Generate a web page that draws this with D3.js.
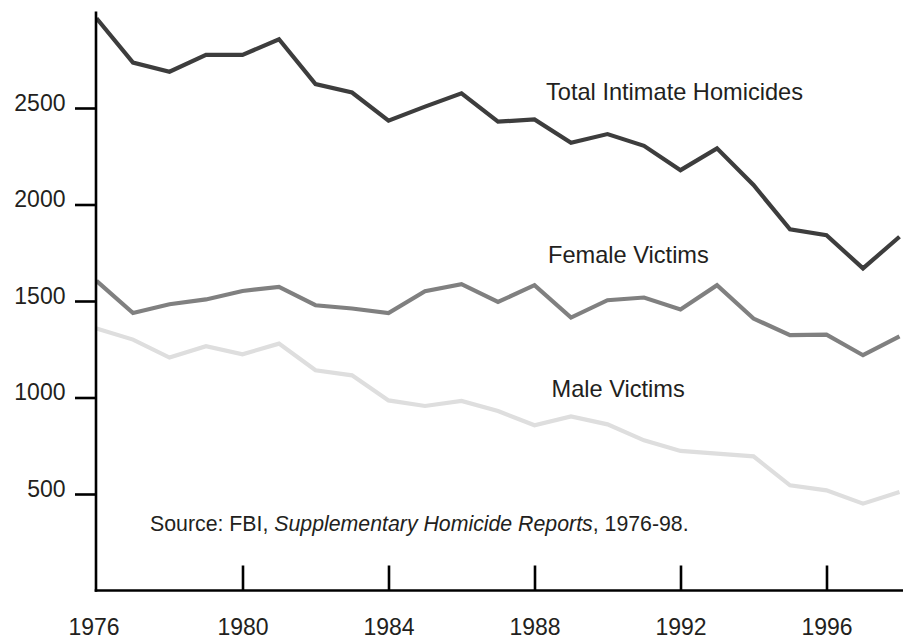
<!DOCTYPE html>
<html>
<head>
<meta charset="utf-8">
<script src="https://cdn.jsdelivr.net/npm/d3@7"></script>
<style>
  html, body { margin: 0; padding: 0; background: #fff; }
  svg { display: block; }
  text { font-family: "Liberation Sans", Arial, Helvetica, sans-serif; fill: #231f20; }
</style>
</head>
<body>
<svg id="chart" width="903" height="639"></svg>
<script>
const years = d3.range(1976, 1999);
const totalIntimate = [2965, 2735, 2688, 2775, 2775, 2856, 2624, 2580, 2434, 2507, 2576, 2429, 2441, 2320, 2365, 2304, 2178, 2291, 2101, 1871, 1841, 1669, 1833];
const femaleVictims = [1604, 1438, 1483, 1508, 1552, 1573, 1478, 1461, 1438, 1551, 1587, 1495, 1582, 1414, 1504, 1518, 1456, 1582, 1409, 1323, 1326, 1219, 1317];
const maleVictims   = [1357, 1300, 1207, 1266, 1224, 1279, 1141, 1115, 985, 956, 982, 930, 856, 902, 861, 778, 723, 709, 695, 545, 519, 450, 510];
const seriesNames = ["Total Intimate Homicides", "Female Victims", "Male Victims"];
const xTickYears = [1976, 1980, 1984, 1988, 1992, 1996];
const yTickValues = [500, 1000, 1500, 2000, 2500];
const sourceParts = [
  {text: "Source: FBI, ", italic: false},
  {text: "Supplementary Homicide Reports", italic: true},
  {text: ", 1976-98.", italic: false}
];

const svg = d3.select("#chart");
const x = d3.scaleLinear().domain([1976, 1998]).range([96.5, 899.5]);
const y = d3.scaleLinear().domain([0, 3000]).range([590.5, 11.5]);

const series = [
  {name: seriesNames[0], values: totalIntimate, color: "#3d3d3d", lx: 546, ly: 99.5},
  {name: seriesNames[1], values: femaleVictims, color: "#808080", lx: 548, ly: 263},
  {name: seriesNames[2], values: maleVictims,   color: "#dedede", lx: 551.5, ly: 396.5}
];

const line = d3.line().x((d, i) => x(years[i])).y(d => y(d));

[...series].reverse().forEach(s => {
  svg.append("path")
    .datum(s.values)
    .attr("d", line)
    .attr("fill", "none")
    .attr("stroke", s.color)
    .attr("stroke-width", 4.2)
    .attr("stroke-linejoin", "miter");
});

series.forEach(s => {
  svg.append("text")
    .attr("x", s.lx).attr("y", s.ly)
    .attr("font-size", "23.6px")
    .text(s.name);
});

// Y axis
const yAxis = d3.axisLeft(y).tickValues(yTickValues).tickSize(21).tickFormat(d3.format("d"));
const gy = svg.append("g").attr("transform", `translate(${x(1976) - 0.5},0)`).call(yAxis);
gy.select(".domain").remove();
gy.selectAll(".tick line").attr("stroke", "#000").attr("stroke-width", 2.6);
gy.selectAll(".tick text")
  .attr("font-size", "23px")
  .attr("dy", "0.1em")
  .attr("x", -30.5)
  .style("font-family", "'Liberation Sans', Arial, sans-serif")
  .attr("fill", "#231f20");

// X axis (ticks point inward/upward)
const xAxis = d3.axisTop(x).tickValues(xTickYears).tickSize(25).tickFormat(d3.format("d"));
const gx = svg.append("g").attr("transform", `translate(0,${y(0)})`).call(xAxis);
gx.select(".domain").remove();
gx.selectAll(".tick line")
  .attr("stroke", "#000").attr("stroke-width", 2.6)
  .attr("display", d => d === 1976 ? "none" : null);
gx.selectAll(".tick text")
  .attr("font-size", "23px")
  .attr("y", 44.5)
  .attr("dy", 0)
  .attr("text-anchor", "middle")
  .attr("dx", d => d === 1976 ? -3 : 0)
  .style("font-family", "'Liberation Sans', Arial, sans-serif")
  .attr("fill", "#231f20");

// axis lines
svg.append("line")
  .attr("x1", x(1976) - 0.5).attr("x2", x(1976) - 0.5)
  .attr("y1", y(3000)).attr("y2", y(0) + 1.3)
  .attr("stroke", "#000").attr("stroke-width", 2.6);
svg.append("line")
  .attr("x1", x(1976) - 1.8).attr("x2", 903)
  .attr("y1", y(0)).attr("y2", y(0))
  .attr("stroke", "#000").attr("stroke-width", 2.6);

// Source note
const src = svg.append("text").attr("x", 150).attr("y", 530.5).attr("font-size", "21.3px");
sourceParts.forEach(p => {
  src.append("tspan").attr("font-style", p.italic ? "italic" : "normal").text(p.text);
});
</script>
</body>
</html>
